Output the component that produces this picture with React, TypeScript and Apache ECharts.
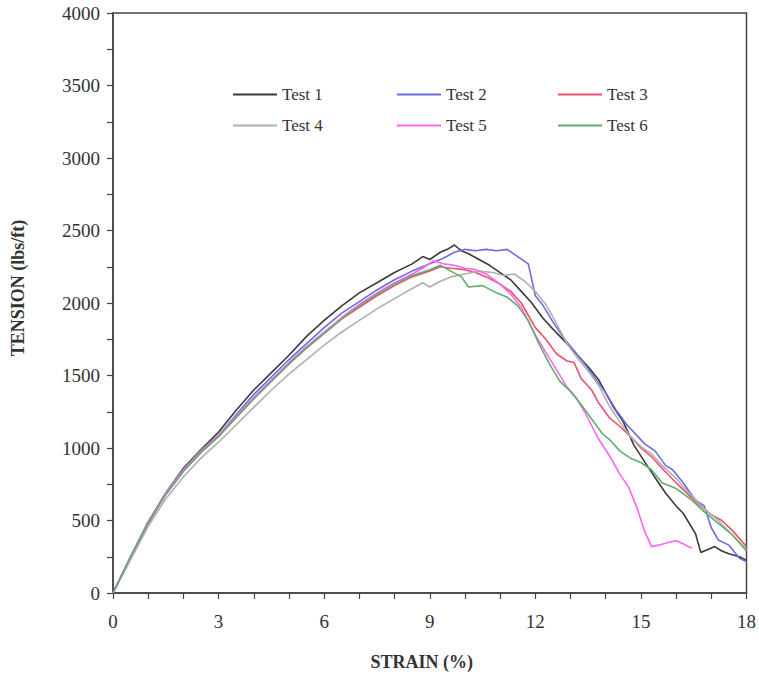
import React, { useEffect, useRef } from "react";
import * as echarts from "echarts";

const seriesNames = ["Test 1", "Test 2", "Test 3", "Test 4", "Test 5", "Test 6"];
const seriesColors = ["#3a3a3a", "#6c6ce0", "#f0506e", "#b0b0b0", "#ff66f0", "#5fae6e"];

const test1: number[][] = [
  [0, 0], [0.5, 240], [1, 480], [1.5, 690], [2, 860], [2.5, 990], [3, 1110], [3.5, 1260], [4, 1400],
  [4.5, 1520], [5, 1640], [5.5, 1770], [6, 1880], [6.5, 1980], [7, 2070], [7.5, 2140], [8, 2210],
  [8.5, 2270], [8.8, 2320], [9, 2300], [9.3, 2350], [9.5, 2370], [9.7, 2400], [9.9, 2360], [10.1, 2340],
  [10.4, 2300], [10.7, 2260], [11, 2210], [11.3, 2160], [11.6, 2080], [11.9, 2000], [12.2, 1900],
  [12.5, 1820], [12.9, 1720], [13.2, 1640], [13.5, 1560], [13.8, 1470], [14.2, 1290], [14.5, 1180],
  [14.8, 1020], [15.2, 870], [15.5, 760], [15.7, 690], [16, 600], [16.2, 550], [16.55, 410], [16.7, 280],
  [16.9, 300], [17.1, 320], [17.3, 290], [17.5, 270], [17.8, 250], [18, 225]
];
const test2: number[][] = [
  [0, 0], [0.5, 250], [1, 490], [1.5, 690], [2, 850], [2.5, 980], [3, 1090], [3.5, 1230], [4, 1370],
  [4.5, 1490], [5, 1610], [5.5, 1720], [6, 1830], [6.5, 1930], [7, 2010], [7.5, 2090], [8, 2160],
  [8.5, 2220], [9, 2270], [9.4, 2310], [9.7, 2350], [10, 2370], [10.3, 2360], [10.6, 2370], [10.9, 2360],
  [11.2, 2370], [11.5, 2320], [11.8, 2270], [12, 2050], [12.2, 1990], [12.5, 1870], [12.8, 1760],
  [13.1, 1670], [13.4, 1580], [13.7, 1480], [14, 1380], [14.3, 1260], [14.6, 1160], [15.1, 1030],
  [15.4, 980], [15.7, 880], [15.9, 850], [16.2, 760], [16.55, 640], [16.8, 600], [17, 450], [17.2, 365],
  [17.5, 330], [17.8, 240], [18, 215]
];
const test3: number[][] = [
  [0, 0], [0.5, 250], [1, 480], [1.5, 680], [2, 840], [2.5, 970], [3, 1080], [3.5, 1210], [4, 1340],
  [4.5, 1460], [5, 1580], [5.5, 1690], [6, 1790], [6.5, 1890], [7, 1970], [7.5, 2050], [8, 2120],
  [8.5, 2180], [9, 2220], [9.3, 2250], [9.6, 2240], [10, 2230], [10.3, 2210], [10.6, 2180], [11, 2130],
  [11.3, 2080], [11.6, 2000], [12, 1830], [12.3, 1750], [12.6, 1650], [12.9, 1600], [13.1, 1590],
  [13.3, 1480], [13.6, 1400], [13.8, 1310], [14.1, 1210], [14.4, 1150], [14.7, 1080], [15, 1000],
  [15.3, 940], [15.6, 860], [16, 760], [16.3, 690], [16.6, 620], [17, 540], [17.3, 500], [17.6, 430],
  [18, 320]
];
const test4: number[][] = [
  [0, 0], [0.5, 230], [1, 460], [1.5, 650], [2, 800], [2.5, 930], [3, 1040], [3.5, 1160], [4, 1280],
  [4.5, 1400], [5, 1510], [5.5, 1610], [6, 1710], [6.5, 1800], [7, 1880], [7.5, 1960], [8, 2030],
  [8.5, 2100], [8.8, 2140], [9, 2110], [9.3, 2150], [9.6, 2180], [10, 2200], [10.4, 2220], [10.8, 2210],
  [11.1, 2190], [11.4, 2200], [11.7, 2150], [12, 2080], [12.3, 1990], [12.6, 1860], [12.9, 1720],
  [13.2, 1620], [13.5, 1530], [13.8, 1430], [14.1, 1290], [14.4, 1180], [14.7, 1080], [15, 1010],
  [15.3, 960], [15.6, 880], [16, 790], [16.4, 680], [16.8, 580], [17.2, 500], [17.6, 400], [18, 300]
];
const test5: number[][] = [
  [0, 0], [0.5, 250], [1, 490], [1.5, 690], [2, 850], [2.5, 980], [3, 1090], [3.5, 1220], [4, 1350],
  [4.5, 1470], [5, 1590], [5.5, 1700], [6, 1800], [6.5, 1900], [7, 1990], [7.5, 2070], [8, 2140],
  [8.5, 2200], [8.8, 2240], [9.1, 2290], [9.4, 2270], [9.7, 2260], [10, 2240], [10.3, 2230], [10.6, 2200],
  [11, 2130], [11.3, 2060], [11.6, 1970], [12, 1780], [12.3, 1660], [12.6, 1540], [12.9, 1420],
  [13.15, 1350], [13.4, 1250], [13.8, 1060], [14.1, 950], [14.4, 820], [14.65, 730], [14.9, 580],
  [15.1, 430], [15.3, 320], [15.5, 330], [15.8, 350], [16, 360], [16.2, 340], [16.35, 320], [16.45, 310]
];
const test6: number[][] = [
  [0, 0], [0.5, 250], [1, 490], [1.5, 680], [2, 840], [2.5, 970], [3, 1080], [3.5, 1210], [4, 1340],
  [4.5, 1460], [5, 1580], [5.5, 1690], [6, 1790], [6.5, 1890], [7, 1980], [7.5, 2060], [8, 2130],
  [8.5, 2190], [9, 2230], [9.3, 2260], [9.6, 2220], [9.9, 2180], [10.1, 2110], [10.5, 2120], [10.9, 2070],
  [11.2, 2040], [11.5, 1980], [11.8, 1880], [12.1, 1720], [12.4, 1580], [12.7, 1460], [13, 1390],
  [13.3, 1300], [13.6, 1200], [13.9, 1100], [14.1, 1060], [14.4, 980], [14.7, 930], [15, 900],
  [15.3, 850], [15.6, 760], [16, 720], [16.4, 650], [16.8, 560], [17.2, 480], [17.6, 400], [18, 290]
];

const allData = [test1, test2, test3, test4, test5, test6];
const legendLeft = [228, 392, 553, 228, 392, 553];
const legendTop = [81, 81, 81, 112, 112, 112];

const FONT = "Liberation Serif, serif";

export default function App() {
  const ref = useRef<HTMLDivElement>(null);
  useEffect(() => {
    if (!ref.current) return;
    const chart = echarts.init(ref.current, undefined, { renderer: "svg" });
    const tickStyle = { color: "#444", width: 1.2 };
    chart.setOption({
      animation: false,
      backgroundColor: "#ffffff",
      grid: {
        left: 113, right: 11, top: 13, bottom: 84,
        show: true, borderColor: "#444", borderWidth: 1.5, backgroundColor: "transparent"
      },
      legend: seriesNames.map((n, i) => ({
        data: [n],
        left: legendLeft[i],
        top: legendTop[i],
        icon: "rect",
        itemWidth: 44,
        itemHeight: 2,
        itemGap: 4,
        textStyle: { fontFamily: FONT, fontSize: 17, color: "#333" },
        selectedMode: false
      })),
      xAxis: {
        type: "value",
        min: 0, max: 18, interval: 3,
        axisLine: { show: true, lineStyle: { color: "#444", width: 1.5 } },
        axisTick: { show: true, inside: false, length: 6, lineStyle: tickStyle },
        minorTick: { show: true, splitNumber: 3, length: 6, lineStyle: tickStyle },
        splitLine: { show: false },
        minorSplitLine: { show: false },
        axisLabel: { fontFamily: FONT, fontSize: 19, color: "#333", margin: 19, formatter: (v: number) => String(v) },
        name: "STRAIN (%)",
        nameLocation: "middle",
        nameGap: 60,
        nameTextStyle: { fontFamily: FONT, fontSize: 18, fontWeight: "bold", color: "#333", padding: [0, 16, 0, 0] }
      },
      yAxis: {
        type: "value",
        min: 0, max: 4000, interval: 500,
        axisLine: { show: true, lineStyle: { color: "#444", width: 1.5 } },
        axisTick: { show: true, inside: false, length: 6, lineStyle: tickStyle },
        minorTick: { show: true, splitNumber: 2, length: 6, lineStyle: tickStyle },
        splitLine: { show: false },
        minorSplitLine: { show: false },
        axisLabel: { fontFamily: FONT, fontSize: 19, color: "#333", margin: 13, formatter: (v: number) => String(v) },
        name: "TENSION (lbs/ft)",
        nameLocation: "middle",
        nameGap: 86,
        nameTextStyle: { fontFamily: FONT, fontSize: 18, fontWeight: "bold", color: "#333", padding: [0, 0, 0, 30] }
      },
      series: seriesNames.map((n, i) => ({
        name: n,
        type: "line",
        data: allData[i],
        symbol: "none",
        color: seriesColors[i],
        lineStyle: { width: 1.6, color: seriesColors[i] }
      }))
    });
    return () => chart.dispose();
  }, []);
  return <div ref={ref} style={{ width: 759, height: 677, position: "absolute", left: 0, top: 0 }} />;
}
